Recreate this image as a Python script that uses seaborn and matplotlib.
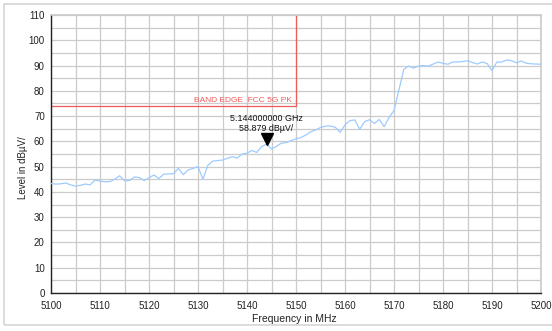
import numpy as np
import pandas as pd
import matplotlib
matplotlib.use("Agg")
import matplotlib.pyplot as plt
import seaborn as sns
from matplotlib.patches import Rectangle

# Sweep data (MHz, dBµV)
freq_mhz = list(range(5100, 5201))
level_dbuv = [
    43.3, 43.1, 43.2, 43.5, 42.8, 42.3, 42.6, 43.1, 42.8, 44.7,
    44.3, 44.0, 44.1, 45.0, 46.4, 44.4, 44.5, 45.9, 45.7, 44.5,
    45.6, 46.7, 45.3, 47.0, 47.1, 47.2, 49.3, 46.8, 48.7, 49.3,
    50.0, 45.0, 50.5, 52.2, 52.4, 52.6, 53.3, 53.9, 53.4, 55.0,
    55.3, 56.4, 55.6, 58.0, 58.879, 57.0, 58.0, 59.3, 59.5, 60.3,
    61.0, 61.5, 62.5, 63.8, 64.5, 65.5, 66.0, 66.1, 65.6, 63.6,
    66.5, 68.2, 68.5, 64.8, 67.8, 68.6, 67.1, 68.7, 65.8, 69.5,
    72.2, 80.3, 88.5, 89.8, 89.0, 89.8, 90.0, 89.8, 90.6, 91.4,
    90.9, 90.5, 91.4, 91.4, 91.6, 91.9, 91.2, 90.6, 91.4, 90.8,
    88.0, 91.4, 91.4, 92.2, 91.9, 91.1, 91.8, 90.9, 90.7, 90.6,
    90.5,
]

# Limit line: FCC 5G peak band edge
limit_freq = [5100, 5150, 5150]
limit_level = [74, 74, 110]
limit_label = "BAND EDGE  FCC 5G PK"

# Marker
marker_freq = 5144.0
marker_level = 58.879

x_ticks = list(range(5100, 5201, 10))
y_ticks = list(range(0, 111, 10))

sns.set_style("white")
plt.rcParams["font.family"] = ["Liberation Sans", "DejaVu Sans"]

fig = plt.figure(figsize=(5.52, 3.31), dpi=100)
ax = fig.add_axes([51 / 552, 38 / 331, 490 / 552, 278 / 331])

df = pd.DataFrame({"freq": freq_mhz, "level": level_dbuv})
sns.lineplot(data=df, x="freq", y="level", ax=ax, color="#9ecbff", linewidth=0.9, zorder=3)

ax.plot(limit_freq, limit_level, color="#ec5c5c", linewidth=0.9, zorder=2)
ax.text(limit_freq[1] - 0.8, limit_level[0] + 0.8, limit_label, color="#f05a5a",
        fontsize=6, ha="right", va="bottom", zorder=4)

# Marker triangle with readout
ax.plot([marker_freq], [marker_level + 2.2], marker="v", markersize=8,
        color="black", linestyle="none", zorder=5)
ax.text(marker_freq, marker_level + 10.2, f"{marker_freq / 1000:.9f} GHz",
        fontsize=6.4, ha="center", va="center", color="#111111", zorder=5)
ax.text(marker_freq, marker_level + 6.2, f"{marker_level:.3f} dBµV/",
        fontsize=6.4, ha="center", va="center", color="#111111", zorder=5)

ax.set_xlim(5100, 5200)
ax.set_ylim(0, 110)
ax.set_xticks(x_ticks)
ax.set_yticks(y_ticks)
ax.set_xticks(np.arange(5105, 5200, 10), minor=True)
ax.set_yticks(np.arange(5, 110, 10), minor=True)

ax.grid(True, which="both", color="#cbcbcb", linewidth=0.9, zorder=0)
ax.set_axisbelow(True)

for side in ("top", "right"):
    ax.spines[side].set_color("#cbcbcb")
    ax.spines[side].set_linewidth(1.2)
for side in ("left", "bottom"):
    ax.spines[side].set_color("#222222")
    ax.spines[side].set_linewidth(1.0)

ax.tick_params(which="both", direction="inout", length=5, width=1.0, color="#222222",
               labelsize=7, pad=2, labelcolor="#222222")
ax.tick_params(which="both", top=False, right=False)
ax.tick_params(axis="x", which="major", pad=3)

ax.set_xlabel("Frequency in MHz", fontsize=7.5, color="#222222", labelpad=4)
ax.set_ylabel("Level in dBµV/", fontsize=7, color="#222222", labelpad=10)
ax.yaxis.set_label_coords(-0.047, 0.45)
ax.xaxis.set_label_coords(0.497, -0.075)

# Outer frame of the figure
fig.patches.append(Rectangle((4 / 552, 6 / 331), 1.0, 321 / 331, transform=fig.transFigure,
                             fill=False, edgecolor="#d6d6d6", linewidth=1.2))

fig.savefig("out.png", dpi=100)
